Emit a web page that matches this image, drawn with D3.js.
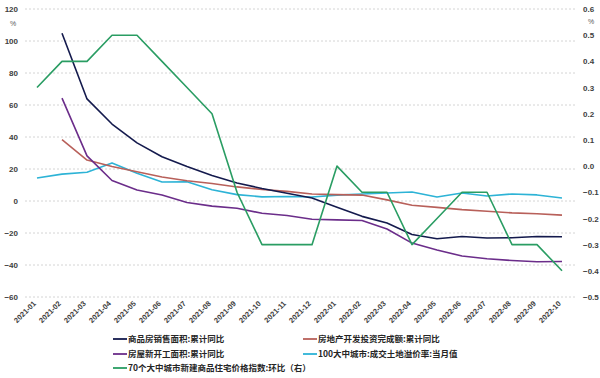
<!DOCTYPE html>
<html><head><meta charset="utf-8">
<script src="https://cdn.jsdelivr.net/npm/d3@7"></script>
<style>body{margin:0;background:#fff}svg{display:block}</style>
</head><body><svg id="c" width="600" height="378"></svg>
<script>
const months = ["2021-01","2021-02","2021-03","2021-04","2021-05","2021-06","2021-07","2021-08","2021-09","2021-10","2021-11","2021-12","2022-01","2022-02","2022-03","2022-04","2022-05","2022-06","2022-07","2022-08","2022-09","2022-10"];
const salesArea = [null,104.9,63.8,48.1,36.3,27.7,21.5,15.9,11.3,7.8,4.8,1.9,-3.9,-9.6,-13.8,-20.9,-23.6,-22.2,-23.1,-23.0,-22.2,-22.3];
const investment = [null,38.3,25.6,21.6,18.3,15.0,12.7,10.9,8.8,7.2,6.0,4.4,4.0,3.7,0.7,-2.7,-4.0,-5.4,-6.4,-7.4,-8.0,-8.8];
const newStarts = [null,64.3,28.2,12.8,6.9,3.8,-0.9,-3.2,-4.5,-7.7,-9.1,-11.4,-11.8,-12.2,-17.5,-26.3,-30.6,-34.4,-36.1,-37.2,-38.0,-37.8];
const landPremium = [14.4,16.8,18.0,23.8,17.4,11.9,12.0,7.0,4.0,2.6,2.8,2.5,3.7,4.4,5.0,5.6,2.5,5.0,3.1,4.4,3.8,1.9];
const priceIndex = [0.3,0.4,0.4,0.5,0.5,0.4,0.3,0.2,-0.1,-0.3,-0.3,-0.3,0.0,-0.1,-0.1,-0.3,-0.2,-0.1,-0.1,-0.3,-0.3,-0.4];
const leftTicks = [120,100,80,60,40,20,0,-20,-40,-60];
const rightTicks = [0.6,0.5,0.4,0.3,0.2,0.1,0.0,-0.1,-0.2,-0.3,-0.4,-0.5];
const seriesNames = ["商品房销售面积:累计同比","房地产开发投资完成额:累计同比","房屋新开工面积:累计同比","100大中城市:成交土地溢价率:当月值","70个大中城市新建商品住宅价格指数:环比（右）"];
const colors = ["#141a4d","#b8605a","#6b2d8a","#2db3d6","#2a9d63"];

const svg = d3.select("#c");
const x = d3.scalePoint().domain(months).range([37,562]);
const yL = d3.scaleLinear().domain([-60,120]).range([297,9]);
const yR = d3.scaleLinear().domain([-0.5,0.6]).range([297,9]);
const font = "'Liberation Sans', Arial, sans-serif";

// grid
svg.append("g").selectAll("line").data(leftTicks).join("line")
  .attr("x1",25).attr("x2",575).attr("y1",d=>yL(d)).attr("y2",d=>yL(d))
  .attr("stroke","#d4d4d4").attr("stroke-width",1).attr("stroke-dasharray","2,2");

// left axis
const la = svg.append("g").attr("transform","translate(18,0)")
  .call(d3.axisLeft(yL).tickValues(leftTicks).tickSize(0).tickPadding(0).tickFormat(d3.format("d")));
la.select(".domain").remove();
la.selectAll("text").attr("font-family",font).attr("font-size",8).attr("font-weight","bold").attr("fill","#404040");

// right axis
const ra = svg.append("g").attr("transform","translate(583,0)")
  .call(d3.axisRight(yR).tickValues(rightTicks).tickSize(0).tickPadding(0).tickFormat(d3.format(".1f")));
ra.select(".domain").remove();
ra.selectAll("text").attr("font-family",font).attr("font-size",8).attr("font-weight","bold").attr("fill","#404040");

svg.append("text").attr("x",13).attr("y",26).attr("text-anchor","middle").attr("font-family",font).attr("font-size",7).attr("fill","#595959").text("%");
svg.append("text").attr("x",591).attr("y",24).attr("text-anchor","middle").attr("font-family",font).attr("font-size",7).attr("fill","#595959").text("%");

// x labels
const xa = svg.append("g").attr("transform","translate(0,298)")
  .call(d3.axisBottom(x).tickSize(0).tickPadding(0));
xa.select(".domain").remove();
xa.selectAll("text").attr("font-family",font).attr("font-size",7.5).attr("font-weight","bold").attr("fill","#404040")
  .attr("text-anchor","end").attr("dy","0").attr("transform","translate(-1,6) rotate(-45)");

// lines
const lineL = d3.line().defined(d=>d[1]!=null).x(d=>x(d[0])).y(d=>yL(d[1]));
const lineR = d3.line().x(d=>x(d[0])).y(d=>yR(d[1]));
const left = [salesArea,investment,newStarts,landPremium];
const order = [3,1,2,0];
order.forEach(i=>{
  svg.append("path").datum(months.map((m,j)=>[m,left[i][j]]))
    .attr("d",lineL).attr("fill","none").attr("stroke",colors[i]).attr("stroke-width",1.6).attr("stroke-linejoin","round");
});
svg.append("path").datum(months.map((m,j)=>[m,priceIndex[j]]))
  .attr("d",lineR).attr("fill","none").attr("stroke",colors[4]).attr("stroke-width",1.6).attr("stroke-linejoin","round");

// legend
const legPos = [[113,339],[303,339],[113,354],[303,354],[113,368]];
seriesNames.forEach((n,i)=>{
  const [lx,ly] = legPos[i];
  svg.append("line").attr("x1",lx).attr("x2",lx+14).attr("y1",ly).attr("y2",ly).attr("stroke",colors[i]).attr("stroke-width",1.8);
  svg.append("text").attr("x",lx+15).attr("y",ly+3).attr("font-family","'Noto Sans CJK SC', sans-serif").attr("font-size",8.5).attr("font-weight","bold").attr("fill","#262626").text(n);
});
</script></body></html>
